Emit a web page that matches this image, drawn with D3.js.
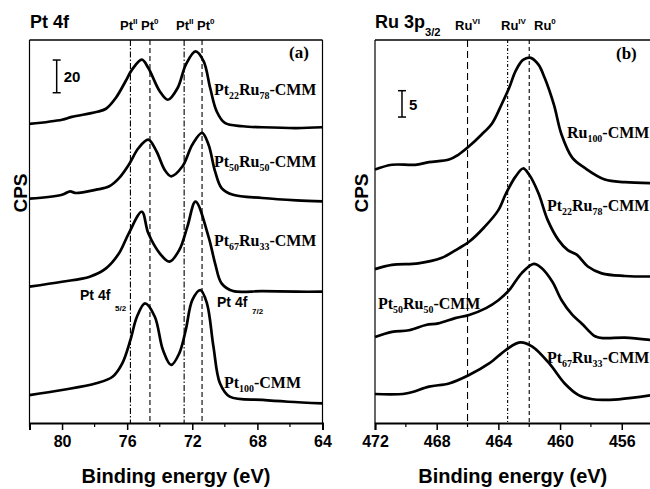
<!DOCTYPE html>
<html>
<head>
<meta charset="utf-8">
<script src="https://cdn.jsdelivr.net/npm/d3@7"></script>
<style>
body { margin: 0; background: #fff; }
</style>
</head>
<body>
<div id="chart"></div>
<script>
// Pt 4f spectra: [binding energy (eV), CPS]
var pt22ru78_4f = [[82.0,182.9],[80.0,185.5],[79.4,187.2],[77.9,190.2],[77.3,192.2],[76.7,198.8],[76.1,209.0],[75.7,216.1],[75.1,222.2],[74.7,217.1],[74.0,202.9],[73.5,197.7],[72.9,204.9],[72.4,219.1],[71.8,227.3],[71.3,221.2],[70.9,204.9],[70.5,190.6],[70.0,183.5],[68.9,181.5],[67.7,180.9],[65.6,180.4],[64.0,180.9]];
var pt50ru50_4f = [[82.0,137.2],[80.0,139.6],[79.5,141.7],[79.2,140.7],[77.9,142.7],[77.1,144.8],[76.5,149.8],[75.9,158.0],[75.3,168.2],[74.7,173.3],[74.2,166.2],[73.7,154.9],[73.3,150.9],[72.6,157.0],[72.0,170.2],[71.4,177.4],[71.0,170.2],[70.6,153.9],[70.2,143.7],[69.5,139.6],[67.7,137.6],[65.6,136.2],[64.0,135.6]];
var pt67ru33_4f = [[82.0,83.4],[80.0,86.4],[78.3,89.5],[77.3,94.6],[76.5,103.8],[75.9,116.0],[75.1,129.2],[74.7,116.0],[74.0,103.8],[73.4,98.7],[72.8,105.8],[72.3,120.1],[71.8,135.4],[71.0,113.9],[70.6,97.7],[70.2,85.4],[69.5,80.7],[67.7,80.7],[65.6,80.3],[64.0,80.3]];
var pt100_4f = [[82.0,17.1],[80.0,20.2],[77.9,24.3],[76.9,28.3],[76.3,36.5],[75.8,50.8],[75.4,65.0],[74.9,73.2],[74.3,65.0],[73.8,44.6],[73.3,35.5],[72.8,42.6],[72.4,56.9],[72.0,75.2],[71.5,81.3],[71.1,73.2],[70.7,46.7],[70.3,24.3],[69.7,16.1],[67.7,14.1],[66.1,13.0],[64.0,12.0]];

// Ru 3p3/2 spectra: [binding energy (eV), CPS]
var ru100_3p = [[472.0,48.1],[470.9,49.0],[469.4,49.0],[468.5,49.5],[467.2,50.0],[466.6,50.9],[465.9,52.5],[465.1,54.7],[464.4,56.9],[463.8,60.4],[463.3,63.6],[462.9,66.7],[462.4,68.9],[461.9,69.3],[461.4,68.0],[461.0,65.5],[460.4,60.4],[459.9,54.7],[459.2,50.3],[458.4,48.4],[457.1,46.2],[455.8,45.7],[454.0,45.5]];
var pt22ru78_3p = [[472.0,29.2],[470.9,30.0],[469.2,30.3],[467.7,31.3],[466.6,33.1],[465.9,34.4],[464.9,37.2],[464.0,40.4],[463.5,43.6],[462.9,46.7],[462.4,48.3],[462.0,47.1],[461.4,43.6],[460.8,38.5],[460.1,34.7],[459.5,32.8],[458.9,31.9],[458.2,29.7],[457.3,28.4],[455.8,27.9],[454.0,27.8]];
var pt50ru50_3p = [[472.0,16.3],[470.9,17.3],[469.8,17.6],[468.7,18.6],[467.9,18.9],[466.8,19.9],[465.9,20.5],[464.8,21.8],[464.0,23.3],[463.3,25.2],[462.5,28.4],[461.7,30.2],[461.2,29.4],[460.5,26.8],[459.9,23.3],[459.2,20.5],[458.6,18.9],[457.7,16.4],[457.1,16.1],[455.8,16.2],[454.0,15.7]];
var pt67ru33_3p = [[472.0,5.5],[470.0,5.6],[468.5,6.9],[467.2,7.5],[465.9,9.1],[464.6,11.3],[463.5,13.9],[462.6,15.3],[461.8,14.5],[460.7,11.3],[459.7,7.5],[458.8,5.3],[457.9,4.5],[456.2,4.5],[454.0,5.3]];

// reference lines (eV)
var ptIILines = [75.8, 72.5];
var pt0Lines = [74.6, 71.4];
var ruVILine = 466.0, ruIVLine = 463.4, ru0Line = 462.0;

// ticks
var ticksA = [80, 76, 72, 68, 64];
var minorA = [82, 78, 74, 70, 66];
var ticksB = [472, 468, 464, 460, 456];
var minorB = [470, 466, 462, 458, 454];

// scale bars (CPS)
var barA = 20, barB = 5;

var sans = "'Liberation Sans', Arial, sans-serif";
var serif = "'Liberation Serif', 'Times New Roman', serif";

var svg = d3.select("#chart").append("svg")
    .attr("width", 650)
    .attr("height", 489)
    .style("background", "#fff");

var yTop = 40, yBot = 423;

var xA = d3.scaleLinear().domain([82, 64]).range([29.5, 322.5]);
var yA = d3.scaleLinear().domain([0, 234.25]).range([yBot, yTop]);
var xB = d3.scaleLinear().domain([472, 454]).range([375, 652.6]);
var yB = d3.scaleLinear().domain([0, 72.68]).range([yBot, yTop]);

function rich(x, y, parts, size, family, anchor) {
    var t = svg.append("text")
        .attr("x", x).attr("y", y)
        .attr("font-family", family)
        .attr("font-weight", "bold")
        .attr("font-size", size)
        .attr("text-anchor", anchor || "start");
    var shift = 0;
    parts.forEach(function(p) {
        var s = p[1] == "sub" ? size * (p[2] || 0.28) : p[1] == "sup" ? -size * 0.45 : 0;
        t.append("tspan")
            .attr("dy", s - shift)
            .attr("font-size", p[1] ? size * 0.62 : size)
            .text(p[0]);
        shift = s;
    });
    return t;
}

function panel(x, y, ticks, minor, series, label, cps) {
    var g = svg.append("g");

    // frame
    g.append("line").attr("x1", x.range()[0]).attr("x2", x.range()[1])
        .attr("y1", yTop).attr("y2", yTop)
        .attr("stroke", "#000").attr("stroke-width", 1.5);
    g.append("line").attr("x1", x.range()[0]).attr("x2", x.range()[0])
        .attr("y1", yTop).attr("y2", yBot)
        .attr("stroke", "#000").attr("stroke-width", 1.2);
    g.append("line").attr("x1", x.range()[1]).attr("x2", x.range()[1])
        .attr("y1", yTop).attr("y2", yBot)
        .attr("stroke", "#000").attr("stroke-width", 1.2);

    // axis
    var ax = g.append("g").attr("transform", "translate(0," + yBot + ")")
        .call(d3.axisBottom(x).tickValues(ticks).tickSize(7).tickPadding(6).tickFormat(d3.format("d")));
    ax.select(".domain").attr("stroke-width", 2);
    ax.selectAll(".tick line").attr("stroke-width", 1.5);
    ax.selectAll("text")
        .attr("font-family", sans).attr("font-weight", "bold")
        .attr("font-size", 16).attr("fill", "#000");
    g.append("g").attr("transform", "translate(0," + yBot + ")")
        .selectAll("line").data(minor).enter().append("line")
        .attr("x1", function(d) { return x(d); })
        .attr("x2", function(d) { return x(d); })
        .attr("y1", 0).attr("y2", 4)
        .attr("stroke", "#000").attr("stroke-width", 1.2);

    // curves
    var line = d3.line()
        .x(function(d) { return x(d[0]); })
        .y(function(d) { return y(d[1]); })
        .curve(d3.curveCatmullRom.alpha(0.5));
    g.selectAll("path.spec").data(series).enter().append("path")
        .attr("class", "spec")
        .attr("d", line)
        .attr("fill", "none")
        .attr("stroke", "#000")
        .attr("stroke-width", 2.7)
        .attr("stroke-linejoin", "round");

    // axis title + CPS
    svg.append("text")
        .attr("x", (x.range()[0] + x.range()[1]) / 2 + (label == "b" ? -1 : 0))
        .attr("y", 483)
        .attr("text-anchor", "middle")
        .attr("font-family", sans).attr("font-weight", "bold").attr("font-size", 20)
        .text("Binding energy (eV)");
    svg.append("text")
        .attr("transform", "translate(" + cps[0] + "," + cps[1] + ") rotate(-90)")
        .attr("text-anchor", "middle")
        .attr("font-family", sans).attr("font-weight", "bold").attr("font-size", 19)
        .text("CPS");
    return g;
}

panel(xA, yA, ticksA, minorA, [pt22ru78_4f, pt50ru50_4f, pt67ru33_4f, pt100_4f], "a", [27, 193]);
panel(xB, yB, ticksB, minorB, [ru100_3p, pt22ru78_3p, pt50ru50_3p, pt67ru33_3p], "b", [368, 193]);

// reference lines
function vline(x, v, dash) {
    svg.append("line")
        .attr("x1", x(v)).attr("x2", x(v))
        .attr("y1", yTop).attr("y2", yBot)
        .attr("stroke", "#000").attr("stroke-width", 1.1)
        .attr("stroke-dasharray", dash);
}
ptIILines.forEach(function(v) { vline(xA, v, "6,2,1.5,2"); });
pt0Lines.forEach(function(v) { vline(xA, v, "5,3"); });
vline(xB, ruVILine, "7,4");
vline(xB, ruIVLine, "3,2,1,2");
vline(xB, ru0Line, "4,3");

// scale bars
function scaleBar(x, y, e, base, val) {
    var px = x(e);
    svg.append("line").attr("x1", px).attr("x2", px)
        .attr("y1", y(base)).attr("y2", y(base + val))
        .attr("stroke", "#000").attr("stroke-width", 1.5);
    [base, base + val].forEach(function(v) {
        svg.append("line").attr("x1", px - 4).attr("x2", px + 4)
            .attr("y1", y(v)).attr("y2", y(v))
            .attr("stroke", "#000").attr("stroke-width", 1.5);
    });
    svg.append("text").attr("x", px + 7).attr("y", y(base + val / 2) + 6)
        .attr("font-family", sans).attr("font-weight", "bold").attr("font-size", 15)
        .text(val);
}
scaleBar(xA, yA, 80.33, 202, barA);
scaleBar(xB, yB, 470.25, 58.06, barB);

// titles
rich(30, 28, [["Pt 4f"]], 18, sans);
rich(120, 29.5, [["Pt"], ["II", "sup"]], 13, sans);
rich(141, 29.5, [["Pt"], ["0", "sup"]], 13, sans);
rich(176, 29.5, [["Pt"], ["II", "sup"]], 13, sans);
rich(197, 29.5, [["Pt"], ["0", "sup"]], 13, sans);

rich(375, 28, [["Ru 3p"], ["3/2", "sub", 0.45]], 18, sans);
rich(455, 29.5, [["Ru"], ["VI", "sup"]], 13, sans);
rich(501, 29.5, [["Ru"], ["IV", "sup"]], 13, sans);
rich(534, 29.5, [["Ru"], ["0", "sup"]], 13, sans);

rich(289, 58, [["(a)"]], 17, serif);
rich(616, 59, [["(b)"]], 17, serif);

// curve labels, panel (a)
rich(214, 95, [["Pt"], ["22", "sub"], ["Ru"], ["78", "sub"], ["-CMM"]], 16, serif);
rich(214, 167, [["Pt"], ["50", "sub"], ["Ru"], ["50", "sub"], ["-CMM"]], 16, serif);
rich(214, 246, [["Pt"], ["67", "sub"], ["Ru"], ["33", "sub"], ["-CMM"]], 16, serif);
rich(224, 388, [["Pt"], ["100", "sub"], ["-CMM"]], 16, serif);
rich(80, 300, [["Pt 4f"]], 14, sans);
rich(115, 311, [["5/2"]], 8, sans);
rich(217, 307, [["Pt 4f"]], 14, sans);
rich(252, 314, [["7/2"]], 8, sans);

// curve labels, panel (b)
rich(567, 138, [["Ru"], ["100", "sub"], ["-CMM"]], 16, serif);
rich(547, 210.5, [["Pt"], ["22", "sub"], ["Ru"], ["78", "sub"], ["-CMM"]], 16, serif);
rich(378, 309, [["Pt"], ["50", "sub"], ["Ru"], ["50", "sub"], ["-CMM"]], 16, serif);
rich(547, 362.5, [["Pt"], ["67", "sub"], ["Ru"], ["33", "sub"], ["-CMM"]], 16, serif);
</script>
</body>
</html>
